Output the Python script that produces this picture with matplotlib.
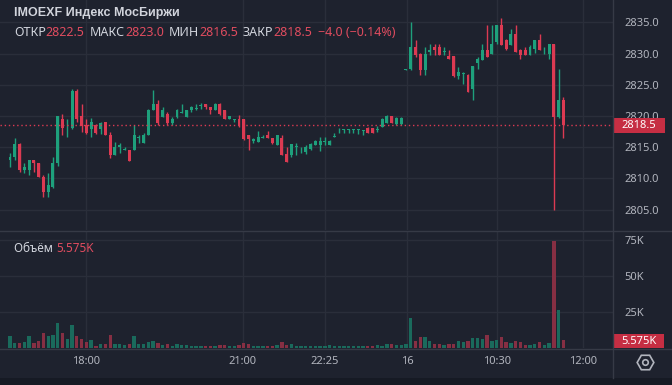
import numpy as np
import matplotlib
matplotlib.use('Agg')
import matplotlib.pyplot as plt
from matplotlib.patches import Rectangle
from matplotlib.lines import Line2D

# 5-minute candles, IMOEXF
opens = [2813.0, 2813.4, 2815.5, 2811.3, 2811.3, 2812.9, 2812.4, 2810.3, 2807.9, 2808.6,
         2812.4, 2819.5, 2818.0, 2818.0, 2824.0, 2820.0, 2818.6, 2817.9, 2818.6, 2817.9,
         2819.1, 2817.0, 2813.75, 2815.0, 2814.5, 2814.6, 2814.5, 2816.5, 2815.7, 2817.0,
         2821.0, 2822.0, 2819.9, 2820.4, 2818.8, 2819.8, 2820.5, 2819.9, 2820.9, 2821.1,
         2821.6, 2822.0, 2821.5, 2820.9, 2822.0, 2821.0, 2819.5, 2819.4, 2819.5, 2819.5,
         2817.0, 2816.0, 2815.9, 2816.5, 2817.0, 2816.4, 2815.3, 2816.4, 2813.9, 2813.75,
         2815.0, 2814.8, 2814.3, 2814.7, 2815.4, 2815.4, 2815.8, 2815.4, 2816.7, 2817.2,
         2817.8, 2817.8, 2817.8, 2817.8, 2817.6, 2818.0, 2818.0, 2817.8, 2818.3, 2818.8,
         2820.0, 2818.7, 2818.7,
         2827.4, 2827.6, 2831.1, 2830.0, 2827.4, 2830.3, 2831.1, 2831.1, 2830.2, 2829.6,
         2829.6, 2826.4, 2826.8, 2826.6, 2824.3, 2828.5, 2829.0, 2830.6, 2830.0, 2831.9,
         2834.6, 2832.2, 2831.4, 2833.1, 2830.6, 2830.6, 2829.8, 2830.8, 2832.2, 2830.5,
         2829.9, 2831.5, 2819.8, 2822.5]
highs = [2814.0, 2816.5, 2815.6, 2812.4, 2812.9, 2812.9, 2812.4, 2810.5, 2810.9, 2813.5,
         2820.0, 2820.4, 2819.5, 2824.4, 2824.4, 2822.0, 2819.5, 2819.6, 2818.7, 2819.1,
         2819.1, 2817.5, 2815.9, 2815.6, 2815.1, 2814.6, 2818.6, 2817.0, 2817.2, 2821.2,
         2824.1, 2822.5, 2821.5, 2820.6, 2819.8, 2821.1, 2822.0, 2821.0, 2821.6, 2822.0,
         2822.1, 2822.0, 2821.5, 2822.1, 2822.1, 2821.0, 2820.0, 2819.5, 2820.2, 2819.5,
         2817.0, 2816.4, 2817.6, 2817.0, 2817.6, 2816.4, 2817.0, 2817.0, 2815.1, 2815.5,
         2815.6, 2815.1, 2815.4, 2815.6, 2816.1, 2816.6, 2816.6, 2816.2, 2817.2, 2818.0,
         2817.9, 2817.9, 2817.9, 2817.9, 2817.7, 2818.2, 2818.0, 2818.4, 2819.6, 2820.2,
         2820.0, 2819.8, 2819.8,
         2827.5, 2835.1, 2832.2, 2830.1, 2831.1, 2831.5, 2831.5, 2831.5, 2831.1, 2830.6,
         2829.6, 2827.9, 2827.1, 2826.7, 2828.0, 2829.5, 2831.6, 2834.6, 2834.6, 2834.6,
         2835.7, 2832.4, 2834.0, 2834.6, 2830.8, 2831.1, 2831.4, 2832.2, 2833.2, 2831.0,
         2831.5, 2831.5, 2827.5, 2823.0]
lows = [2811.8, 2813.0, 2811.1, 2810.9, 2810.5, 2811.1, 2810.2, 2807.0, 2807.0, 2808.4,
        2812.0, 2817.0, 2816.6, 2817.9, 2819.1, 2817.5, 2817.1, 2816.6, 2817.1, 2817.1,
        2816.9, 2813.3, 2813.7, 2814.0, 2814.5, 2812.8, 2814.5, 2815.6, 2815.6, 2817.0,
        2821.0, 2818.6, 2819.8, 2818.5, 2818.5, 2819.6, 2820.5, 2819.9, 2820.6, 2820.9,
        2821.1, 2821.1, 2820.4, 2820.9, 2820.2, 2819.5, 2819.5, 2819.0, 2818.3, 2816.1,
        2814.6, 2815.6, 2815.9, 2816.5, 2816.4, 2815.5, 2815.3, 2813.8, 2812.6, 2813.4,
        2813.7, 2814.1, 2813.9, 2814.6, 2815.4, 2814.4, 2815.4, 2815.4, 2816.6, 2817.2,
        2817.2, 2817.3, 2817.2, 2817.1, 2817.0, 2817.2, 2817.2, 2817.5, 2818.3, 2818.8,
        2818.8, 2818.6, 2818.6,
        2827.4, 2827.4, 2829.5, 2826.6, 2826.6, 2829.8, 2829.8, 2829.8, 2829.8, 2829.1,
        2826.3, 2826.0, 2825.2, 2823.9, 2822.6, 2827.5, 2829.0, 2829.5, 2830.0, 2831.6,
        2831.4, 2830.6, 2831.4, 2830.3, 2829.1, 2829.8, 2829.8, 2830.1, 2830.5, 2830.0,
        2829.1, 2804.9, 2819.6, 2816.5]
closes = [2813.4, 2815.5, 2811.3, 2811.8, 2812.9, 2812.4, 2810.3, 2807.9, 2809.0, 2812.4,
          2820.0, 2818.0, 2818.1, 2824.0, 2819.5, 2818.4, 2817.2, 2819.1, 2817.2, 2818.9,
          2817.0, 2813.75, 2815.1, 2815.35, 2814.6, 2812.8, 2817.0, 2816.7, 2817.0, 2821.0,
          2822.0, 2818.8, 2820.9, 2818.8, 2819.5, 2820.9, 2820.6, 2821.0, 2821.5, 2821.2,
          2821.7, 2821.5, 2820.9, 2822.0, 2820.4, 2819.5, 2820.0, 2819.5, 2818.4, 2816.3,
          2816.3, 2816.3, 2816.6, 2816.6, 2816.4, 2815.7, 2817.0, 2813.8, 2812.7, 2815.5,
          2815.1, 2814.9, 2815.1, 2815.5, 2816.0, 2816.0, 2815.9, 2816.0, 2816.8, 2817.3,
          2817.9, 2817.9, 2817.9, 2817.9, 2817.7, 2817.2, 2817.2, 2817.9, 2819.5, 2820.0,
          2818.8, 2819.6, 2819.6,
          2827.5, 2831.1, 2829.8, 2827.4, 2830.0, 2830.5, 2830.6, 2829.8, 2830.3, 2829.1,
          2826.4, 2827.1, 2826.9, 2823.9, 2828.0, 2829.1, 2830.6, 2829.5, 2831.6, 2834.6,
          2831.4, 2830.8, 2833.1, 2830.3, 2829.8, 2829.8, 2831.1, 2832.2, 2830.5, 2830.6,
          2831.5, 2819.8, 2822.5, 2818.5]
# volume, thousands of contracts
volumes = [8.6, 3.5, 3.5, 4.0, 8.2, 3.5, 5.1, 10.5, 8.2, 9.1,
           17.5, 10.5, 6.3, 16.0, 8.6, 6.3, 4.4, 5.8, 1.6, 2.8,
           2.8, 9.1, 2.8, 2.8, 2.1, 2.8, 8.2, 2.8, 2.8, 4.4,
           5.1, 3.5, 2.1, 2.8, 1.6, 2.8, 2.0, 2.0, 1.6, 1.6,
           1.2, 1.2, 1.6, 1.6, 2.1, 2.1, 1.6, 1.6, 2.1, 3.5,
           2.8, 1.6, 1.6, 1.6, 1.6, 1.6, 2.1, 4.0, 2.1, 2.8,
           1.6, 1.6, 1.6, 1.4, 1.6, 1.6, 1.4, 1.8, 1.2, 1.4,
           1.2, 1.4, 1.2, 1.6, 1.6, 1.6, 1.6, 2.1, 1.6, 2.5,
           2.5, 2.1, 2.1,
           2.8, 20.7, 5.1, 7.5, 7.5, 5.1, 2.8, 2.8, 2.1, 2.8,
           2.8, 5.1, 4.4, 5.1, 7.0, 7.0, 6.3, 9.1, 5.1, 5.8,
           7.5, 4.4, 3.5, 5.1, 4.0, 2.1, 2.1, 2.8, 4.4, 2.1,
           3.5, 74.4, 26.8, 5.575]

time_ticks = [15.9, 48.8, 66.0, 83.2, 102.1, 120.1]
time_labels = ['18:00', '21:00', '22:25', '16', '10:30', '12:00']
price_ticks = [2805, 2810, 2815, 2820, 2825, 2830, 2835]
vol_ticks = [25, 50, 75]

W, H = 672, 385
BG = '#1e222e'
GRID = '#2a2e3a'
SEP = '#363a46'
TXT = '#b2b5be'
GREEN = '#1ea07c'
RED = '#dc3a52'
VGREEN = '#1a6a5c'
VRED = '#862f43'
LABEL_RED = '#c62e43'
HEAD_RED = '#e04c5f'
HEAD = '#d1d4dc'

plt.rcParams['font.family'] = ['Noto Sans', 'DejaVu Sans']

fig = plt.figure(figsize=(W / 100, H / 100), dpi=100, facecolor=BG)


def px(x0, y0, x1, y1):
    return [x0 / W, 1 - y1 / H, (x1 - x0) / W, (y1 - y0) / H]


axp = fig.add_axes(px(0, 0, 613, 230))
axv = fig.add_axes(px(0, 231, 613, 348))

o = np.array(opens)
h = np.array(highs)
l = np.array(lows)
c = np.array(closes)
v = np.array(volumes)
idx = np.arange(len(o))
up = c >= o
cols = np.where(up, GREEN, RED)
vcols = np.where(up, VGREEN, VRED)

for ax in (axp, axv):
    ax.set_facecolor(BG)
    for s in ax.spines.values():
        s.set_visible(False)
    ax.set_xlim(-2.1, 126.4)
    ax.set_xticks(time_ticks)
    ax.grid(True, color=GRID, lw=1)
    ax.set_axisbelow(True)
    ax.yaxis.tick_right()
    ax.tick_params(length=0, colors=TXT, labelsize=8, pad=8)

# candles
axp.vlines(idx, l, h, colors=cols, lw=1)
axp.bar(idx, np.maximum(np.abs(c - o), 0.15), bottom=np.minimum(o, c),
        width=0.62, color=cols, lw=0)
axp.axhline(c[-1], color=RED, lw=1, ls=(0, (1, 2)))
axp.set_ylim(2801.73, 2838.59)
axp.set_yticks(price_ticks)
axp.set_yticklabels(['%.1f' % p for p in price_ticks])
for t in axp.get_yticklabels():
    t.set_horizontalalignment('left')
axp.tick_params(axis='x', labelbottom=False)

# volume
axv.bar(idx, v, width=0.7, color=vcols, lw=0)
axv.set_ylim(0, 81.6)
axv.set_yticks(vol_ticks)
axv.set_yticklabels(['%dK' % t for t in vol_ticks])
axv.set_xticklabels(time_labels)
axv.tick_params(axis='x', pad=6)

# frame lines
fig.add_artist(Line2D([613 / W, 613 / W], [1 - 378 / H, 1], color=SEP, lw=1))
fig.add_artist(Line2D([0, 1], [1 - 230.5 / H, 1 - 230.5 / H], color=SEP, lw=1))
fig.add_artist(Line2D([0, 1], [1 - 348.5 / H, 1 - 348.5 / H], color=SEP, lw=1))
fig.patches.append(Rectangle((0, 0), 1, 7 / H, transform=fig.transFigure,
                             facecolor='#161a24', edgecolor='none', figure=fig))

# last value labels
fig.patches.append(Rectangle((613 / W, 1 - 133 / H), 52 / W, 15 / H, transform=fig.transFigure,
                             facecolor=LABEL_RED, edgecolor='none', figure=fig))
fig.text(639 / W, 1 - 125.5 / H, '%.1f' % c[-1], color='white', fontsize=8,
         fontweight='bold', ha='center', va='center')
fig.patches.append(Rectangle((613 / W, 1 - 348 / H), 51 / W, 14 / H, transform=fig.transFigure,
                             facecolor=LABEL_RED, edgecolor='none', figure=fig))
fig.text(638.5 / W, 1 - 341 / H, '%.3fK' % v[-1], color='white', fontsize=8,
         fontweight='bold', ha='center', va='center')

# settings icon
fig.add_artist(Line2D([645 / W], [1 - 362 / H], marker='H', ms=12, mfc='none',
                      mec=TXT, mew=1.2, transform=fig.transFigure))
fig.add_artist(Line2D([645 / W], [1 - 362 / H], marker='o', ms=4, mfc='none',
                      mec=TXT, mew=1.2, transform=fig.transFigure))

renderer = fig.canvas.get_renderer()


def chain(x, y, parts, **kw):
    for s, col in parts:
        t = fig.text(x / W, 1 - y / H, s, color=col, ha='left', va='center', **kw)
        x += t.get_window_extent(renderer=renderer).width
    return x


chain(14, 13, [('IMOEXF Индекс МосБиржи', HEAD)], fontsize=9, fontweight='bold',
      family=['Liberation Sans', 'DejaVu Sans'])
chg = c[-1] - o[-1]
pct = chg / o[-1] * 100
x = chain(14, 33, [('ОТКР', HEAD), ('%.1f' % o[-1], HEAD_RED)], fontsize=9)
x = chain(x + 5, 33, [('МАКС', HEAD), ('%.1f' % h[-1], HEAD_RED)], fontsize=9)
x = chain(x + 5, 33, [('МИН', HEAD), ('%.1f' % l[-1], HEAD_RED)], fontsize=9)
x = chain(x + 5, 33, [('ЗАКР', HEAD), ('%.1f' % c[-1], HEAD_RED)], fontsize=9)
chain(x + 6, 33, [('%s (%s%%)' % (('%.1f' % chg).replace('-', '\u2212'),
                                   ('%.2f' % pct).replace('-', '\u2212')), HEAD_RED)],
      fontsize=9)
chain(14, 248, [('Объём ', HEAD), ('%.3fK' % v[-1], HEAD_RED)], fontsize=8.5)

fig.savefig('out.png', dpi=100, facecolor=BG)
